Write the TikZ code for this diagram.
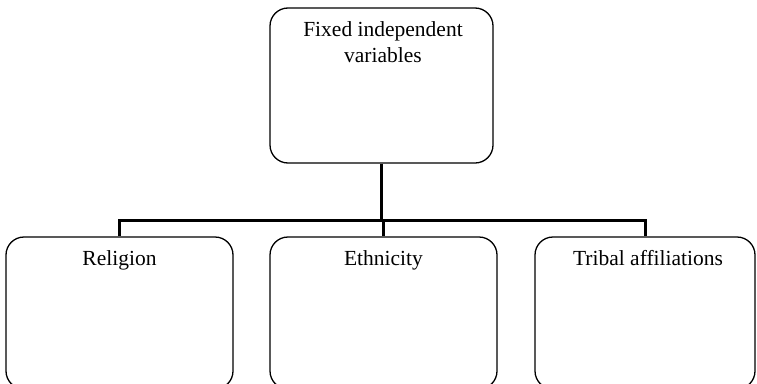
\documentclass[tikz,border=0pt]{standalone}
\usepackage{fontspec}
\setmainfont{Liberation Serif}
\begin{document}
\begin{tikzpicture}[x=1pt,y=-1pt,
  box/.style={draw=black, line width=1.3pt, rounded corners=18pt, inner sep=0pt},
  conn/.style={draw=black, line width=3pt},
  lbl/.style={font=\fontsize{21.5}{26}\selectfont, align=center, anchor=north, inner sep=0pt}]
\useasboundingbox (0,0) rectangle (757,383);
\node[box, minimum width=223pt, minimum height=155pt] (top) at (381.5,85.5) {};
\node[lbl] (toplbl) at (383,21) {Fixed independent\\variables};
\node[box, minimum width=227pt, minimum height=152pt] (rel) at (119.5,313) {};
\node[box, minimum width=227pt, minimum height=152pt] (eth) at (383.5,313) {};
\node[box, minimum width=220pt, minimum height=152pt] (tri) at (645,313) {};
\node[lbl] (rellbl) at (119.5,250) {Religion};
\node[lbl] (ethlbl) at (383.5,250) {Ethnicity};
\node[lbl] (trilbl) at (648,250) {Tribal affiliations};
\coordinate (j) at (top.south |- 0,220);
\draw[conn] (top.south) -- (j);
\draw[conn] (rel.north) |- (j) -| (tri.north);
\draw[conn] (eth.north) -- (eth.north |- j);
\end{tikzpicture}
\end{document}
